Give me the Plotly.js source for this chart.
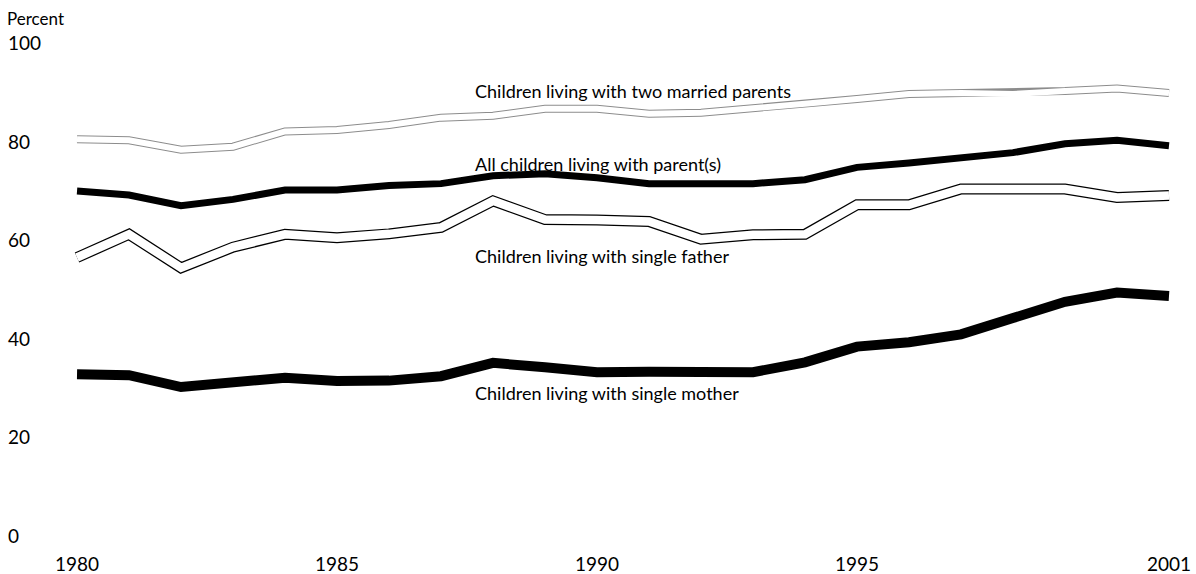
<!DOCTYPE html>
<html>
<head>
<meta charset="utf-8">
<script src="https://cdn.plot.ly/plotly-3.0.1.min.js"></script>
<style>html,body{margin:0;padding:0;background:#fff;}#chart{width:1196px;height:574px;}</style>
</head>
<body>
<div id="chart"></div>
<script>
const years = [1980,1981,1982,1983,1984,1985,1986,1987,1988,1989,1990,1991,1992,1993,1994,1995,1996,1997,1998,1999,2000,2001];
const twoMarried = [80.6,80.4,78.5,79.1,82.2,82.5,83.5,85.0,85.4,86.8,86.8,85.8,86.0,86.8,87.8,88.8,89.8,90.0,89.8,90.4,90.9,90.0];
const allChildren = [70.1,69.3,67.1,68.4,70.3,70.3,71.2,71.6,73.2,73.6,72.8,71.6,71.6,71.6,72.4,74.9,75.8,76.8,77.9,79.7,80.4,79.3];
const singleFather = [56.6,61.3,54.5,58.7,61.3,60.6,61.4,62.7,68.1,64.3,64.2,63.9,60.3,61.2,61.3,67.3,67.3,70.5,70.5,70.5,68.8,69.2];
const singleMother = [32.9,32.7,30.3,31.1,32.2,31.5,31.6,32.5,35.2,34.3,33.3,33.4,33.4,33.3,35.3,38.5,39.4,41.0,44.3,47.6,49.5,48.8];
const xTicks = [1980,1985,1990,1995,2001];
const yTicks = [0,20,40,60,80,100];
const seriesLabels = ["Children living with two married parents","All children living with parent(s)","Children living with single father","Children living with single mother"];
const labelY = [90.4,75.6,56.9,29.1];

const FONT = "Lato, 'Open Sans', sans-serif";
function line(y, color, width, name){
  return {x: years, y: y, type: 'scatter', mode: 'lines', name: name,
          line: {color: color, width: width, shape: 'linear'}, hoverinfo: 'skip', showlegend: false};
}
const traces = [
  line(twoMarried, '#8c8c8c', 8, 'two married outline'),
  line(twoMarried, '#ffffff', 6, seriesLabels[0]),
  line(allChildren, '#000000', 7, seriesLabels[1]),
  line(singleFather, '#000000', 11, 'single father outline'),
  line(singleFather, '#ffffff', 8.5, seriesLabels[2]),
  line(singleMother, '#000000', 10, seriesLabels[3])
];
const annotations = seriesLabels.map((t,i)=>({
  text: t, x: 1987.62, y: labelY[i], xref: 'x', yref: 'y', xanchor: 'left', yanchor: 'middle',
  showarrow: false, font: {family: FONT, size: 18, color: '#000'}
}));
annotations.push({text: 'Percent', xref: 'paper', yref: 'paper', x: 0, y: 1.021, xanchor: 'left', yanchor: 'middle',
  showarrow: false, font: {family: FONT, size: 17, color: '#000'}});

const layout = {
  width: 1196, height: 574,
  margin: {l: 5, r: 10, t: 29, b: 23},
  paper_bgcolor: '#fff', plot_bgcolor: '#fff',
  font: {family: FONT, color: '#000'},
  xaxis: {range: [1978.615, 2001.327], tickvals: xTicks, ticktext: xTicks.map(String),
          showgrid: false, zeroline: false, showline: false, ticks: '',
          tickfont: {family: FONT, size: 19, color: '#000'}},
  yaxis: {range: [-3, 103], tickvals: yTicks, ticktext: yTicks.map(String), ticklabelposition: 'inside',
          showgrid: false, zeroline: false, showline: false, ticks: '',
          tickfont: {family: FONT, size: 19, color: '#000'}},
  annotations: annotations,
  showlegend: false
};
Plotly.newPlot('chart', traces, layout, {displayModeBar: false, staticPlot: true});
</script>
</body>
</html>
